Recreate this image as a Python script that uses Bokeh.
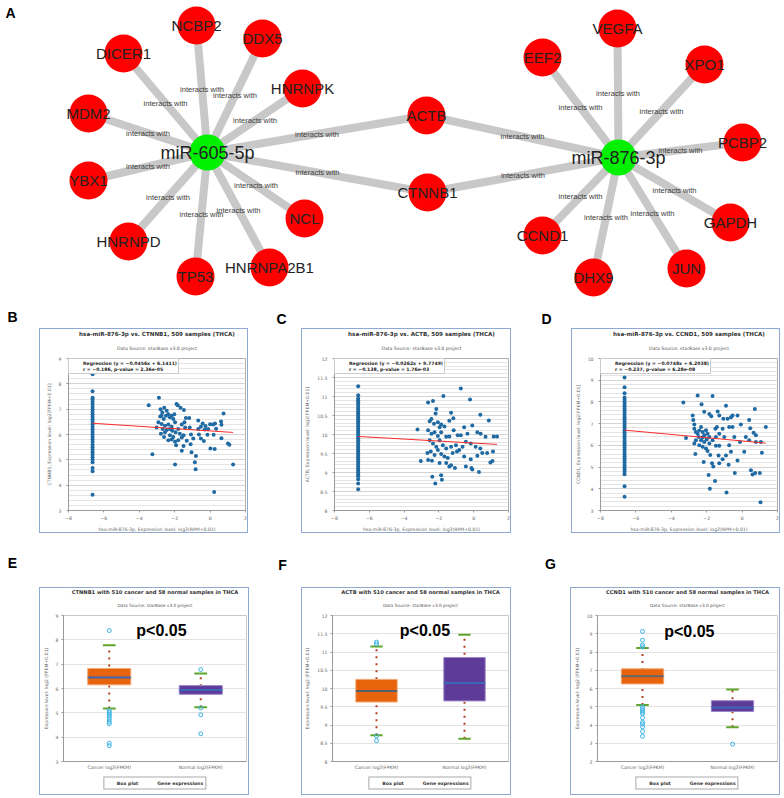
from bokeh.plotting import figure
from bokeh.layouts import column, row
from bokeh.models import (Range1d, Legend, LegendItem, Title, Spacer,
                          SingleIntervalTicker, FixedTicker, NumeralTickFormatter)
from bokeh.embed import file_html
from bokeh.resources import INLINE
from bokeh.core.properties import value

SANS = "Liberation Sans"
SMALL = "DejaVu Sans"
FRAME = {"border": "1px solid #8ea9d2", "box-sizing": "border-box"}
FRAME_COL = {"border": "1px solid #8ea9d2", "box-sizing": "content-box"}

# ---------------- Panel A: network data ----------------
node_names = ["miR-605-5p", "miR-876-3p", "NCBP2", "DDX5", "DICER1", "HNRNPK", "MDM2",
              "YBX1", "HNRNPD", "TP53", "HNRNPA2B1", "NCL", "ACTB", "CTNNB1", "VEGFA",
              "EEF2", "XPO1", "PCBP2", "GAPDH", "JUN", "DHX9", "CCND1"]
node_x = [207, 618, 196, 262, 123, 302, 88, 88, 128, 195, 269, 304, 426, 427, 617,
          542, 704, 742, 730, 686, 593, 542]
node_y = [152, 157, 25, 38, 53, 88, 113, 180, 241, 276, 267, 218, 115, 192, 28,
          57, 64, 142, 222, 268, 277, 235]
node_is_mirna = [True, True] + [False] * 20
edge_from = ["miR-605-5p"] * 12 + ["miR-876-3p"] * 10
edge_to = ["NCBP2", "DDX5", "DICER1", "HNRNPK", "MDM2", "YBX1", "HNRNPD", "TP53",
           "HNRNPA2B1", "NCL", "ACTB", "CTNNB1",
           "VEGFA", "EEF2", "XPO1", "PCBP2", "GAPDH", "JUN", "DHX9", "CCND1", "ACTB", "CTNNB1"]
edge_text = "interacts with"
panel_letters_top = ["A", "B", "C", "D"]
panel_letters_mid = ["E", "F", "G"]

# ---------------- Panels B-D: scatter data ----------------
scatter_genes = ["CTNNB1", "ACTB", "CCND1"]
scatter_slope = [-0.0456, -0.0262, -0.0748]
scatter_intercept = [6.1411, 9.7749, 6.2038]
scatter_stats = ["r = \u22120.186, p-value = 2.36e-05",
                 "r = \u22120.138, p-value = 1.76e-03",
                 "r = \u22120.237, p-value = 6.28e-08"]
zero_mirna_x = -6.64

B_col_y = [3.62, 4.55, 4.68, 4.9, 5.0, 5.1, 5.2, 5.3, 5.4, 5.5, 5.6, 5.7, 5.8, 5.9, 6.0,
           6.1, 6.2, 6.3, 6.4, 6.5, 6.6, 6.7, 6.8, 6.9, 7.0, 7.1, 7.2, 7.3, 7.4, 7.45, 7.71, 8.38]
B_x = [-3.47, -2.89, -3.26, -1.98, -0.86, -0.82, -0.8, 0.23, 1.30, -1.9, -1.83, -1.67, -1.48,
       -1.37, -1.18, -1.15, -1.08, -0.95, -1.32, -1.5, -1.6, -1.1, -1.05, -0.63, -0.67, -0.52,
       -0.42, -0.26, -0.11, -0.15, 0.02, 0.26, 0.2, 0.34, 0.17, 0.28, 0.64, 0.62, 0.76, 0.64,
       1.01, 1.09, -0.3, -0.52, -0.35, 0.0, -0.67, -2.8, -2.7, -2.59, -2.45, -2.74, -2.82,
       -2.62, -2.49, -2.36, -2.27, -2.17, -2.08, -1.98, -2.02, -2.74, -2.55, -2.36, -2.17,
       -2.68, -2.45, -2.27, -2.14, -2.78, -2.55, -1.95, -1.8, -2.6, -2.36, -2.17, -1.98,
       -1.92, -2.27, -2.08, -1.71, -1.6, -1.8, -1.5, -1.41, -1.6, -1.45, -2.92, -3.02]
B_y = [7.15, 7.45, 5.22, 4.82, 4.9, 4.63, 5.15, 3.73, 4.82, 7.2, 7.15, 7.06, 6.97,
       6.65, 6.65, 6.28, 6.0, 5.84, 5.75, 5.55, 5.36, 5.62, 5.3, 6.0, 6.22, 6.31,
       6.43, 6.34, 6.22, 5.99, 5.45, 5.43, 5.99, 6.23, 6.39, 6.43, 6.38, 6.51, 6.83, 5.85,
       5.64, 5.6, 6.2, 5.84, 5.74, 6.4, 6.55, 7.0, 6.87, 7.06, 6.94, 6.74, 6.71,
       6.61, 6.74, 6.8, 6.68, 6.74, 6.61, 6.48, 6.8, 6.41, 6.35, 6.39, 6.31,
       6.22, 6.18, 6.22, 6.15, 6.03, 6.09, 6.09, 6.22, 5.9, 5.77, 5.8, 5.71,
       5.58, 5.97, 5.9, 6.03, 5.88, 5.77, 5.97, 6.28, 6.39, 6.48, 6.48, 6.28]

C_col_y = [8.56, 8.71, 8.82, 8.9, 8.95, 9.0, 9.05, 9.1, 9.15, 9.2, 9.25, 9.3, 9.35, 9.4,
           9.45, 9.5, 9.55, 9.6, 9.65, 9.7, 9.75, 9.8, 9.85, 9.9, 9.95, 10.0, 10.05, 10.1,
           10.15, 10.2, 10.25, 10.3, 10.35, 10.4, 10.45, 10.5, 10.55, 10.6, 10.65, 10.7,
           10.75, 10.8, 10.85, 10.9, 10.95, 11.03, 11.27]
C_x = [-3.23, -3.04, -2.62, -2.34, -2.15, -2.19, -2.43, -2.53, -2.28, -2.06, -1.87, -1.96,
       -1.68, -1.74, -0.74, -0.21, 0.38, 0.87, -1.3, -1.17, -1.4, -2.62, -2.43, -2.25, -2.06,
       -1.87, -1.58, -1.4, -1.15, -0.92, -0.74, -0.55, -0.36, -0.08, 0.21, 0.4, 0.68, 1.15,
       1.34, -2.53, -2.34, -2.15, -1.96, -1.77, -1.58, -1.3, -1.02, -0.83, -0.64, -0.45,
       -0.17, 0.11, 0.38, 0.77, -2.66, -2.47, -2.25, -2.06, -1.87, -1.68, -1.49, -1.21,
       -0.96, -0.55, -0.17, 0.21, 0.49, 0.96, 1.08, 1.11, -2.62, -2.4, -1.96, -1.58, -1.4,
       -1.08, -0.45, -0.13, -0.08, 0.3, -2.38, -2.21, -1.87, -1.83, -1.3]
C_y = [10.13, 9.3, 10.84, 10.88, 10.67, 10.55, 10.41, 10.35, 10.28, 10.32, 10.26, 10.19,
       10.21, 11.01, 11.21, 10.92, 10.52, 10.37, 10.57, 10.43, 10.36, 10.11, 10.02, 10.06, 9.96,
       10.06, 9.94, 9.95, 10.11, 9.98, 9.98, 10.19, 10.02, 10.24, 10.06, 10.02, 9.94, 9.95,
       9.95, 9.85, 9.76, 9.68, 9.85, 9.72, 9.63, 9.68, 9.72, 9.59, 9.68, 9.81,
       9.76, 9.68, 9.63, 9.51, 9.51, 9.55, 9.46, 9.59, 9.49, 9.42, 9.38, 9.51,
       9.55, 9.42, 9.35, 9.44, 9.51, 9.26, 9.3, 9.55, 9.33, 9.31, 9.25, 9.25, 9.16,
       9.12, 9.16, 9.12, 9.08, 9.01, 8.89, 8.71, 8.93, 8.81, 9.19]

D_col_y = [3.63, 4.12, 4.67, 4.78, 4.9, 5.0, 5.1, 5.2, 5.3, 5.4, 5.5, 5.6, 5.7, 5.8, 5.9,
           6.0, 6.1, 6.2, 6.3, 6.4, 6.5, 6.6, 6.7, 6.8, 6.9, 7.0, 7.1, 7.2, 7.3, 7.4, 7.5,
           7.6, 7.7, 7.8, 7.9, 8.0, 8.1, 8.2, 8.4, 8.68, 9.13]
D_x = [-3.32, -3.17, -2.51, -1.67, -2.29, -2.14, -2.79, -2.76, -2.7, -1.85, -1.74, -1.38,
       -1.29, -0.91, -1.06, -0.82, -0.63, -0.54, -0.26, -1.42, -1.51, -1.1, -0.73, -0.54,
       -0.07, 0.4, 0.46, 0.72, 0.65, 0.78, 1.34, -2.7, -2.61, -2.51, -2.42, -2.32, -2.23,
       -2.14, -2.04, -1.95, -1.85, -2.45, -2.32, -2.23, -2.14, -2.0, -2.61, -2.7, -2.42,
       -2.23, -2.04, -1.85, -1.67, -1.48, -1.29, -1.48, -1.29, -1.01, -0.73, -0.44, -0.12,
       0.21, 0.4, 0.78, 1.06, -2.64, -2.17, -1.95, -1.8, -1.7, -1.63, -1.89, -1.82, -1.53,
       -1.33, -1.29, -1.1, -0.91, -0.76, -0.88, -0.63, -0.41, -0.26, 0.12, 0.5, 0.59, 0.74,
       1.0, 1.12, 1.04]
D_y = [7.97, 6.34, 8.3, 8.27, 7.89, 7.55, 7.37, 7.17, 6.96, 7.44, 7.34, 7.56,
       7.37, 7.82, 7.22, 7.22, 7.29, 7.37, 7.37, 6.84, 6.76, 6.76, 6.84, 6.84,
       6.96, 7.17, 6.79, 7.67, 6.58, 6.46, 6.84, 6.76, 6.61, 6.54, 6.69, 6.84, 6.61,
       6.46, 6.69, 6.54, 6.39, 6.39, 6.24, 6.36, 6.16, 6.27, 6.24, 6.09, 6.01,
       5.94, 5.86, 6.09, 6.24, 6.39, 6.54, 5.98, 5.98, 6.39, 6.01, 6.39, 6.16,
       6.39, 6.24, 6.16, 6.16, 5.6, 5.23, 5.74, 5.56, 5.18, 5.03, 4.63, 4.0, 4.36,
       5.53, 5.18, 5.36, 5.53, 5.11, 3.83, 5.71, 4.73, 5.3, 5.71, 4.85, 4.66, 4.73,
       4.73, 5.66, 3.38]

scatter_col_y = [B_col_y, C_col_y, D_col_y]
scatter_x = [B_x, C_x, D_x]
scatter_y = [B_y, C_y, D_y]
scatter_yrange = [(3, 9, 1), (8, 12, 0.5), (3, 10, 1)]

# ---------------- Panels E-G: box plot data ----------------
box_groups = ["Cancer log2(FPKM)", "Normal log2(FPKM)"]
box_genes = ["CTNNB1", "ACTB", "CCND1"]
box_q1 = [[6.15, 5.76], [9.63, 9.66], [6.25, 4.74]]
box_med = [[6.45, 5.94], [9.93, 10.15], [6.67, 4.96]]
box_q3 = [[6.82, 6.12], [10.25, 10.85], [7.08, 5.33]]
box_lo = [[5.18, 5.23], [8.72, 8.62], [5.10, 3.87]]
box_hi = [[7.78, 6.62], [11.15, 11.47], [8.22, 5.95]]
E_out_cancer = [8.38, 5.1, 5.02, 4.95, 4.88, 4.8, 4.72, 4.62, 4.55, 3.75, 3.65]
E_out_normal = [6.78, 5.2, 4.92, 4.14]
F_out_cancer = [11.27, 11.22, 8.7, 8.57]
F_out_normal = []
G_out_cancer = [9.13, 8.65, 8.38, 8.28, 5.0, 4.9, 4.8, 4.7, 4.62, 4.4, 4.15, 4.05, 3.9, 3.65, 3.38]
G_out_normal = [2.95]
box_outliers = [[E_out_cancer, E_out_normal], [F_out_cancer, F_out_normal],
                [G_out_cancer, G_out_normal]]
box_yrange = [(3, 9, 1), (8, 12, 0.5), (2, 10, 1)]
p_text = "p<0.05"
p_pos = [(1.07, 8.4), (1.05, 11.6), (1.02, 9.1)]
median_colors = [["#3a68b8", "#3a68b8"], ["#55606e", "#3a68b8"], ["#5e6670", "#3a68b8"]]


def blank(w, h, xr, yr):
    p = figure(width=w, height=h, x_range=Range1d(*xr), y_range=Range1d(*yr),
               output_backend="svg", toolbar_location=None, x_axis_type=None,
               y_axis_type=None, min_border=0, outline_line_color=None)
    p.grid.visible = False
    return p


def add_titles(p, main, sub, main_px, sub_px, border_top, s_main=1.5):
    h_main = 2 + 1.2 * main_px + s_main
    s_sub = max(0.0, border_top - h_main - (2 + 1.2 * sub_px) - 0.5)
    p.add_layout(Title(text=sub, align="center", text_font=SMALL, text_font_size="%spx" % sub_px,
                       text_font_style="normal", text_color="#555555", standoff=s_sub,
                       vertical_align="top"), "above")
    p.add_layout(Title(text=main, align="center", text_font=SMALL,
                       text_font_size="%spx" % main_px, text_font_style="bold",
                       text_color="#333333", standoff=s_main, vertical_align="top"), "above")


def style_axes(p):
    for ax in (p.xaxis[0], p.yaxis[0]):
        ax.major_label_text_font = SMALL
        ax.major_label_text_font_size = "4.6px"
        ax.major_label_text_color = "#666666"
        ax.axis_label_text_font = SMALL
        ax.axis_label_text_font_size = "4.6px"
        ax.axis_label_text_font_style = "normal"
        ax.axis_label_text_color = "#666666"
        ax.axis_line_color = "#9a9a9a"
        ax.major_tick_line_color = "#9a9a9a"
        ax.major_tick_out = 2
        ax.major_tick_in = 0
        ax.minor_tick_line_color = None
        ax.major_label_standoff = 3
        ax.axis_label_standoff = 4


# ---------------- Panel A ----------------
pA = blank(784, 328, (0, 784), (328, 0))
idx = {n: i for i, n in enumerate(node_names)}
x0 = [node_x[idx[a]] for a in edge_from]
y0 = [node_y[idx[a]] for a in edge_from]
x1 = [node_x[idx[b]] for b in edge_to]
y1 = [node_y[idx[b]] for b in edge_to]
pA.segment(x0, y0, x1, y1, line_color="#c8c8c8", line_width=8)
pA.text([(a + b) / 2 for a, b in zip(x0, x1)], [(a + b) / 2 for a, b in zip(y0, y1)],
        text=[edge_text] * len(x0), text_font=value(SANS), text_font_size="7.5px",
        text_color="#3c3c3c", text_align="center", text_baseline="middle")
gx = [x for x, m in zip(node_x, node_is_mirna) if not m]
gy = [y for y, m in zip(node_y, node_is_mirna) if not m]
gn = [n for n, m in zip(node_names, node_is_mirna) if not m]
mx = [x for x, m in zip(node_x, node_is_mirna) if m]
my = [y for y, m in zip(node_y, node_is_mirna) if m]
mn = [n for n, m in zip(node_names, node_is_mirna) if m]
pA.circle(gx, gy, radius=19, fill_color="#ff0000", line_color=None)
pA.circle(mx, my, radius=18, fill_color="#00f000", line_color=None)
pA.text(gx, gy, text=gn, text_font=value(SANS), text_font_size="15px",
        text_color="#222222", text_align="center", text_baseline="middle")
pA.text(mx, my, text=mn, text_font=value(SANS), text_font_size="18px",
        text_color="#222222", text_align="center", text_baseline="middle")
pA.text([10, 12, 281, 546], [12, 316, 318, 318], text=panel_letters_top,
        text_font=value(SANS), text_font_size="14px", text_font_style="bold",
        text_color="#000000", text_align="center", text_baseline="middle")

# ---------------- Panels B-D ----------------
scatter_figs = []
for k, gene in enumerate(scatter_genes):
    ys, ye, step = scatter_yrange[k]
    w = 210 if k == 1 else 209
    p = figure(width=w, height=205, x_range=Range1d(-8, 2), y_range=Range1d(ys, ye),
               output_backend="svg", toolbar_location=None, min_border_left=28,
               min_border_right=4, min_border_top=29, min_border_bottom=21,
               outline_line_color="#b0b0b0", styles=FRAME)
    add_titles(p, "hsa-miR-876-3p vs. %s, 509 samples (THCA)" % gene,
               "Data Source: starBase v3.0 project", 5.6, 4.6, 29)
    yt = SingleIntervalTicker(interval=step, num_minor_ticks=5)
    p.yaxis.ticker = yt
    p.ygrid.ticker = yt
    p.xaxis.ticker = SingleIntervalTicker(interval=2, num_minor_ticks=0)
    p.yaxis.formatter = NumeralTickFormatter(format="0.[0]")
    p.xgrid.visible = False
    p.ygrid.grid_line_color = "#d4d4d4"
    p.ygrid.minor_grid_line_color = "#e4e4e4"
    p.xaxis.axis_label = "hsa-miR-876-3p, Expression level: log2(RPM+0.01)"
    p.yaxis.axis_label = "%s, Expression level: log2[FPKM+0.01]" % gene
    style_axes(p)
    cy = scatter_col_y[k]
    p.scatter([zero_mirna_x] * len(cy), cy, size=4, fill_color="#1f6aa3", line_color=None)
    p.scatter(scatter_x[k], scatter_y[k], size=4, fill_color="#1f6aa3", line_color=None)
    lx = [zero_mirna_x, max(scatter_x[k])]
    p.line(lx, [scatter_slope[k] * v + scatter_intercept[k] for v in lx],
           line_color="#ff2a2a", line_width=1)
    r1 = p.line([], [], line_color="#5ec4ee", line_width=2)
    r2 = p.scatter([], [], size=3.5, fill_color="#3cb043", line_color=None)
    reg = "Regression (y = \u2212%.4fx + %.4f)" % (abs(scatter_slope[k]), scatter_intercept[k])
    leg = Legend(items=[LegendItem(label=reg, renderers=[r1]),
                        LegendItem(label=scatter_stats[k], renderers=[r2])],
                 location="top_left", margin=0, padding=1, spacing=0,
                 label_text_font=SMALL, label_text_font_size="4.6px",
                 label_text_font_style="bold", label_text_color="#222222",
                 label_height=6, glyph_height=6, glyph_width=10, label_standoff=3,
                 border_line_color="#999999", border_line_width=1,
                 background_fill_color="#ffffff", background_fill_alpha=1)
    p.add_layout(leg)
    scatter_figs.append(p)

# ---------------- Letters E-G ----------------
pL = blank(784, 54, (0, 784), (587, 533))
pL.text([12, 282, 550], [562, 564, 563], text=panel_letters_mid,
        text_font=value(SANS), text_font_size="14px", text_font_style="bold",
        text_color="#000000", text_align="center", text_baseline="middle")

# ---------------- Panels E-G ----------------
box_panels = []
box_left = [19, 26, 26]
for k, gene in enumerate(box_genes):
    ys, ye, step = box_yrange[k]
    p = figure(width=208, height=184, x_range=Range1d(0, 2), y_range=Range1d(ys, ye),
               output_backend="svg", toolbar_location=None, min_border_left=box_left[k],
               min_border_right=2, min_border_top=27, min_border_bottom=9,
               outline_line_color="#c8c8c8")
    add_titles(p, "%s with 510 cancer and 58 normal samples in THCA" % gene,
               "Data Source: starBase v3.0 project", 5.2, 4.3, 27)
    yt = SingleIntervalTicker(interval=step, num_minor_ticks=0)
    p.yaxis.ticker = yt
    p.ygrid.ticker = yt
    p.yaxis.formatter = NumeralTickFormatter(format="0.[0]")
    pos = [i + 0.5 for i in range(len(box_groups))]
    p.xaxis.ticker = FixedTicker(ticks=pos)
    p.xaxis.major_label_overrides = {v: g for v, g in zip(pos, box_groups)}
    p.xgrid.visible = False
    p.ygrid.grid_line_color = "#e2e2e2"
    p.yaxis.axis_label = "Expression level: log2 (FPKM+0.01)"
    style_axes(p)
    p.xaxis.major_tick_line_color = None
    p.xaxis.major_tick_out = 0
    p.segment(pos, box_lo[k], pos, box_hi[k], line_color="#b0401c", line_width=2,
              line_dash="2 5")
    p.vbar(x=pos, bottom=box_q1[k], top=box_q3[k], width=0.47,
           fill_color=["#e8640c", "#5e3b99"], line_color=["#f3a772", "#9b86c8"], line_width=1)
    p.segment([v - 0.235 for v in pos], box_med[k], [v + 0.235 for v in pos], box_med[k],
              line_color=median_colors[k], line_width=2)
    p.segment([v - 0.07 for v in pos], box_hi[k], [v + 0.07 for v in pos], box_hi[k],
              line_color="#5fa62c", line_width=2)
    p.segment([v - 0.07 for v in pos], box_lo[k], [v + 0.07 for v in pos], box_lo[k],
              line_color="#5fa62c", line_width=2)
    ox, oy = [], []
    for gi, vals in enumerate(box_outliers[k]):
        ox += [pos[gi]] * len(vals)
        oy += vals
    p.scatter(ox, oy, size=4, fill_color=None, line_color="#3cb4e6", line_width=1)
    p.text([p_pos[k][0]], [p_pos[k][1]], text=[p_text], text_font=value(SANS),
           text_font_size="16px", text_font_style="bold", text_color="#000000",
           text_align="center", text_baseline="middle")

    # legend strip below the axis, inside the same framed panel
    q = blank(208, 22, (0, 1), (0, 1))
    rb = q.scatter([], [], marker="square", size=6, fill_color="#c4c4c4", line_color="#b0b0b0")
    ro = q.scatter([], [], marker="circle", size=3.5, fill_color=None, line_color="#3cb4e6")
    leg = Legend(items=[LegendItem(label="Box plot", renderers=[rb]),
                        LegendItem(label="Gene expressions", renderers=[ro])],
                 orientation="horizontal", location="center", margin=0, padding=2,
                 spacing=8, label_text_font=SMALL, label_text_font_size="4.6px",
                 label_text_font_style="bold", label_text_color="#333333",
                 label_height=7, glyph_height=7, glyph_width=8, label_standoff=3,
                 border_line_color="#555555", border_line_width=1.5)
    q.add_layout(leg)
    box_panels.append(column(p, q, styles=FRAME_COL))

layout = column(
    pA,
    row(Spacer(width=39, height=205), scatter_figs[0], Spacer(width=53, height=205),
        scatter_figs[1], Spacer(width=60, height=205), scatter_figs[2]),
    pL,
    row(Spacer(width=39, height=208), box_panels[0], Spacer(width=52, height=208),
        box_panels[1], Spacer(width=59, height=208), box_panels[2]),
)

open("out.html", "w").write(file_html(layout, INLINE))
